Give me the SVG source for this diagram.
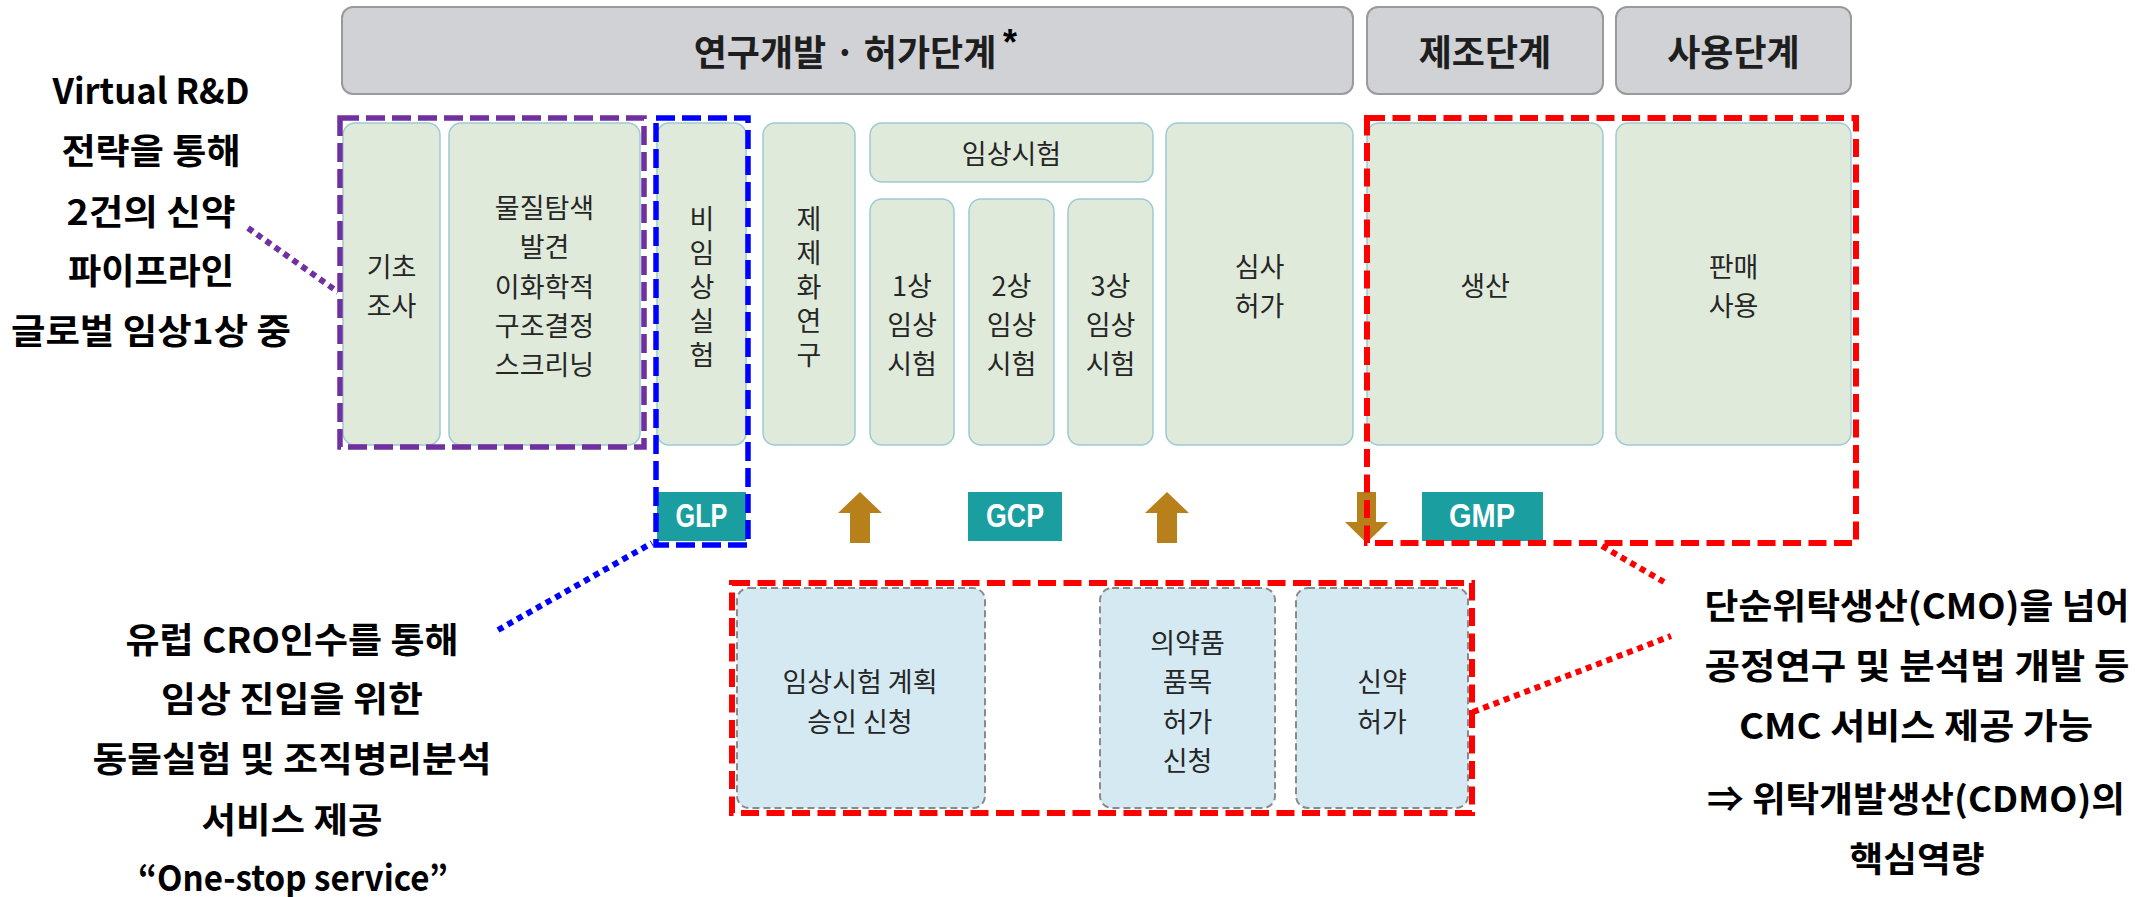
<svg xmlns="http://www.w3.org/2000/svg" width="2152" height="897" viewBox="0 0 2152 897">
<style>
.hdr{fill:#d0d2d5;stroke:#9a9a9a;stroke-width:2}
.hdrt{font-family:"Noto Sans CJK KR","Noto Sans",sans-serif;font-weight:bold;font-size:36px;fill:#1e1e1e;text-anchor:middle;dominant-baseline:central}
.box{fill:#dfeadb;stroke:#9ccad4;stroke-width:1.5}
.lbl{font-family:"Noto Sans CJK KR","Noto Sans",sans-serif;font-size:27px;fill:#262626;text-anchor:middle;dominant-baseline:central}
.vlbl{font-family:"Noto Sans CJK KR","Noto Sans",sans-serif;font-size:27px;fill:#262626;text-anchor:middle;writing-mode:vertical-rl;letter-spacing:7px}
.bbox{fill:#d4e9f2;stroke:#8a8a8a;stroke-width:2;stroke-dasharray:7 4}
.badge{fill:#1a9ea0}
.bt{font-family:"Liberation Sans",Arial,sans-serif;font-weight:bold;font-size:33px;fill:#ffffff;text-anchor:middle;dominant-baseline:central}
.arr{fill:#b8801a}
.ann{font-family:"Noto Sans CJK KR","Noto Sans",sans-serif;font-weight:bold;font-size:35px;fill:#000;text-anchor:middle;dominant-baseline:central}
.dp{fill:none;stroke:#7030a0;stroke-width:5.5;stroke-dasharray:19 7}
.db{fill:none;stroke:#0000ff;stroke-width:5.5;stroke-dasharray:19 7}
.dr{fill:none;stroke:#ff0000;stroke-width:6;stroke-dasharray:18 7.5}
.dot{fill:none;stroke-width:6;stroke-dasharray:6 5}
</style>

<g id="header-rnd">
<rect class="hdr" x="342" y="7" width="1011" height="87" rx="11"/>
<text class="hdrt" x="845" y="50">연구개발 · 허가단계</text>
<text x="1003" y="55" font-family="Liberation Sans,Arial,sans-serif" font-weight="bold" font-size="36" fill="#000">*</text>
</g>
<g id="header-mfg">
<rect class="hdr" x="1367" y="7" width="236" height="87" rx="11"/>
<text class="hdrt" x="1485" y="50">제조단계</text>
</g>
<g id="header-use">
<rect class="hdr" x="1616" y="7" width="235" height="87" rx="11"/>
<text class="hdrt" x="1733.5" y="50">사용단계</text>
</g>

<g id="basic">
<rect class="box" x="343" y="123" width="97" height="322" rx="12"/>
<text class="lbl"><tspan x="391.5" y="264.5">기초</tspan><tspan x="391.5" y="304">조사</tspan></text>
</g>
<g id="discovery">
<rect class="box" x="449" y="123" width="191" height="322" rx="12"/>
<text class="lbl"><tspan x="544.5" y="206">물질탐색</tspan><tspan x="544.5" y="245.3">발견</tspan><tspan x="544.5" y="284.6">이화학적</tspan><tspan x="544.5" y="323.9">구조결정</tspan><tspan x="544.5" y="363.2">스크리닝</tspan></text>
</g>
<g id="nonclinical">
<rect class="box" x="657" y="123" width="89" height="322" rx="12"/>
<text class="vlbl" x="702" y="290">비임상실험</text>
</g>
<g id="formulation">
<rect class="box" x="763" y="123" width="92" height="322" rx="12"/>
<text class="vlbl" x="809" y="290">제제화연구</text>
</g>
<g id="clinical">
<rect class="box" x="870" y="123" width="283" height="59" rx="12"/>
<text class="lbl" x="1011.5" y="152">임상시험</text>
</g>
<g id="phase1">
<rect class="box" x="870" y="199" width="84" height="246" rx="12"/>
<text class="lbl"><tspan x="912" y="283.7">1상</tspan><tspan x="912" y="323">임상</tspan><tspan x="912" y="362.3">시험</tspan></text>
</g>
<g id="phase2">
<rect class="box" x="969" y="199" width="85" height="246" rx="12"/>
<text class="lbl"><tspan x="1011.5" y="283.7">2상</tspan><tspan x="1011.5" y="323">임상</tspan><tspan x="1011.5" y="362.3">시험</tspan></text>
</g>
<g id="phase3">
<rect class="box" x="1068" y="199" width="85" height="246" rx="12"/>
<text class="lbl"><tspan x="1110.5" y="283.7">3상</tspan><tspan x="1110.5" y="323">임상</tspan><tspan x="1110.5" y="362.3">시험</tspan></text>
</g>
<g id="review">
<rect class="box" x="1166" y="123" width="187" height="322" rx="12"/>
<text class="lbl"><tspan x="1259.5" y="264.5">심사</tspan><tspan x="1259.5" y="304">허가</tspan></text>
</g>
<g id="production">
<rect class="box" x="1367" y="123" width="236" height="322" rx="12"/>
<text class="lbl" x="1485" y="284">생산</text>
</g>
<g id="sales">
<rect class="box" x="1616" y="123" width="235" height="322" rx="12"/>
<text class="lbl"><tspan x="1733.5" y="264.5">판매</tspan><tspan x="1733.5" y="304">사용</tspan></text>
</g>

<g id="glp">
<rect class="badge" x="657" y="492" width="89" height="49"/>
<text class="bt" x="701.5" y="515" textLength="52" lengthAdjust="spacingAndGlyphs">GLP</text>
</g>
<g id="gcp">
<rect class="badge" x="968" y="492" width="94" height="49"/>
<text class="bt" x="1015" y="515" textLength="58" lengthAdjust="spacingAndGlyphs">GCP</text>
</g>
<g id="gmp">
<rect class="badge" x="1422" y="492" width="121" height="49"/>
<text class="bt" x="1482" y="515" textLength="66" lengthAdjust="spacingAndGlyphs">GMP</text>
</g>

<g id="ind">
<rect class="bbox" x="737" y="588" width="248" height="220" rx="12"/>
<text class="lbl"><tspan x="860" y="680">임상시험 계획</tspan><tspan x="860" y="719.5">승인 신청</tspan></text>
</g>
<g id="nda">
<rect class="bbox" x="1100" y="588" width="175" height="220" rx="12"/>
<text class="lbl"><tspan x="1187.5" y="640.5">의약품</tspan><tspan x="1187.5" y="680">품목</tspan><tspan x="1187.5" y="719.5">허가</tspan><tspan x="1187.5" y="759">신청</tspan></text>
</g>
<g id="approval">
<rect class="bbox" x="1296" y="588" width="172" height="220" rx="12"/>
<text class="lbl"><tspan x="1382" y="680">신약</tspan><tspan x="1382" y="719.5">허가</tspan></text>
</g>

<g id="arrows">
<polygon class="arr" points="860,492 882,513 870,513 870,543 850,543 850,513 838,513"/>
<polygon class="arr" points="1167,492 1189,513 1177,513 1177,543 1157,543 1157,513 1145,513"/>
<polygon class="arr" points="1357,492 1376,492 1376,522 1388,522 1366.5,543 1345,522 1357,522"/>
</g>

<g id="note-virtual">
<text class="ann" x="151" y="88" textLength="197" lengthAdjust="spacingAndGlyphs">Virtual R&amp;D</text>
<text class="ann" x="151" y="148" textLength="179" lengthAdjust="spacingAndGlyphs">전략을 통해</text>
<text class="ann" x="151" y="209" textLength="169" lengthAdjust="spacingAndGlyphs">2건의 신약</text>
<text class="ann" x="151" y="268" textLength="166" lengthAdjust="spacingAndGlyphs">파이프라인</text>
<text class="ann" x="151" y="328" textLength="280" lengthAdjust="spacingAndGlyphs">글로벌 임상1상 중</text>
</g>
<g id="note-cro">
<text class="ann" x="292" y="637" textLength="333" lengthAdjust="spacingAndGlyphs">유럽 CRO인수를 통해</text>
<text class="ann" x="292" y="696" textLength="262" lengthAdjust="spacingAndGlyphs">임상 진입을 위한</text>
<text class="ann" x="292" y="756" textLength="399" lengthAdjust="spacingAndGlyphs">동물실험 및 조직병리분석</text>
<text class="ann" x="292" y="817" textLength="181" lengthAdjust="spacingAndGlyphs">서비스 제공</text>
<text class="ann" x="293" y="875" textLength="310" lengthAdjust="spacingAndGlyphs">“One-stop service”</text>
</g>
<g id="note-cdmo">
<text class="ann" x="1917" y="603" textLength="425" lengthAdjust="spacingAndGlyphs">단순위탁생산(CMO)을 넘어</text>
<text class="ann" x="1917" y="663" textLength="425" lengthAdjust="spacingAndGlyphs">공정연구 및 분석법 개발 등</text>
<text class="ann" x="1916" y="723" textLength="354" lengthAdjust="spacingAndGlyphs">CMC 서비스 제공 가능</text>
<text class="ann" x="1916" y="796" textLength="418" lengthAdjust="spacingAndGlyphs">⇒ 위탁개발생산(CDMO)의</text>
<text class="ann" x="1917" y="856" textLength="135" lengthAdjust="spacingAndGlyphs">핵심역량</text>
</g>

<g id="connectors">
<rect class="dp" x="340" y="118" width="304" height="329"/>
<rect class="db" x="656" y="118" width="92" height="427"/>
<rect class="dr" x="1367" y="118" width="489" height="425"/>
<rect class="dr" x="732" y="583" width="740" height="230"/>
<line class="dot" stroke="#7030a0" x1="248" y1="228" x2="338" y2="292"/>
<line class="dot" stroke="#0000ff" x1="498" y1="630" x2="652" y2="543"/>
<line class="dot" stroke="#ff0000" x1="1602" y1="546" x2="1664" y2="582"/>
<line class="dot" stroke="#ff0000" x1="1473" y1="712" x2="1671" y2="636"/>
</g>
</svg>
